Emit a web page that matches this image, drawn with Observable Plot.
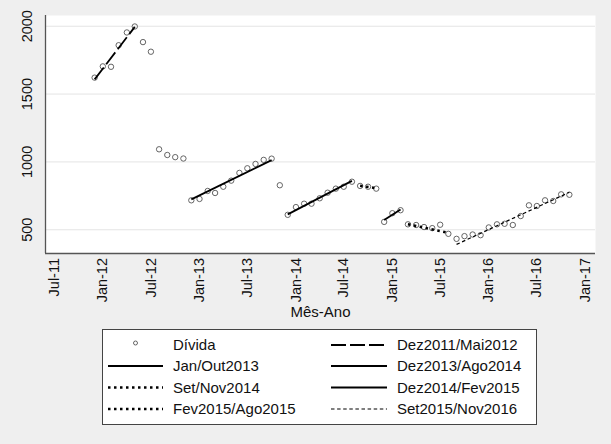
<!DOCTYPE html>
<html><head><meta charset="utf-8">
<script src="https://cdn.jsdelivr.net/npm/d3@7"></script>
<script src="https://cdn.jsdelivr.net/npm/@observablehq/plot@0.6"></script>
<style>
body{margin:0;background:#efefef;font-family:"Liberation Sans",Arial,Helvetica,sans-serif;}
#wrap{position:relative;width:611px;height:444px;overflow:hidden;}
#legend{position:absolute;left:102px;top:329px;}
</style></head><body>
<div id="wrap"><div id="chart"></div><div id="legend"></div></div>
<script>
// ---- data ----
const months = [
  "2011-12",
  "2012-01","2012-02","2012-03","2012-04","2012-05","2012-06","2012-07","2012-08","2012-09","2012-10","2012-11","2012-12",
  "2013-01","2013-02","2013-03","2013-04","2013-05","2013-06","2013-07","2013-08","2013-09","2013-10","2013-11","2013-12",
  "2014-01","2014-02","2014-03","2014-04","2014-05","2014-06","2014-07","2014-08","2014-09","2014-10","2014-11","2014-12",
  "2015-01","2015-02","2015-03","2015-04","2015-05","2015-06","2015-07","2015-08","2015-09","2015-10","2015-11","2015-12",
  "2016-01","2016-02","2016-03","2016-04","2016-05","2016-06","2016-07","2016-08","2016-09","2016-10","2016-11"
];
const divida = [
  1621,
  1704,1701,1860,1954,1998,1883,1812,1093,1051,1035,1025,717,
  727,786,771,817,862,919,953,985,1015,1024,828,610,
  667,692,692,732,773,803,817,854,823,817,803,558,
  622,644,540,535,520,512,537,470,433,453,465,460,
  517,540,544,535,601,680,675,717,712,761,758
];
const fitLabels = ["Dez2011/Mai2012","Jan/Out2013","Dez2013/Ago2014","Set/Nov2014","Dez2014/Fev2015","Fev2015/Ago2015","Set2015/Nov2016"];
const fitStartMonth = ["2011-12","2012-12","2013-12","2014-09","2014-12","2015-03","2015-09"];
const fitEndMonth   = ["2012-05","2013-10","2014-08","2014-11","2015-02","2015-08","2016-11"];
const fitStartValue = [1608, 724, 613, 824, 571, 540, 392];
const fitEndValue   = [1995, 1013, 860, 806, 650, 477, 776];
const yTicks = [500, 1000, 1500, 2000];
const xTickMonths = ["2011-07","2012-01","2012-07","2013-01","2013-07","2014-01","2014-07","2015-01","2015-07","2016-01","2016-07","2017-01"];
const xTickLabels = ["Jul-11","Jan-12","Jul-12","Jan-13","Jul-13","Jan-14","Jul-14","Jan-15","Jul-15","Jan-16","Jul-16","Jan-17"];
const pointLabel = "Dívida";
const xTitle = "Mês-Ano";

// ---- styles ----
const fitStyles = [
  {dash:"15,4", width:1.8},
  {dash:null, width:1.8},
  {dash:null, width:1.8},
  {dash:"2.5,3.5", width:2.5},
  {dash:null, width:1.8},
  {dash:"2.5,3.5", width:2.5},
  {dash:"3.5,2.6", width:1.2}
];
const FONT = '"Liberation Sans",Arial,Helvetica,sans-serif';

const parse = d3.utcParse("%Y-%m");
const points = months.map((m,i)=>({date:parse(m), value:divida[i]}));
const fitRows = fitLabels.flatMap((s,i)=>[
  {series:s, date:parse(fitStartMonth[i]), value:fitStartValue[i]},
  {series:s, date:parse(fitEndMonth[i]), value:fitEndValue[i]}
]);
const xTicks = xTickMonths.map((m,i)=>({date:parse(m), label:xTickLabels[i]}));

const xDomain = [new Date(Date.UTC(2011,4,29)), new Date(Date.UTC(2017,1,8))];
const yDomain = [325, 2079];

const fitMarks = fitLabels.map((s,i)=>Plot.line(fitRows.filter(d=>d.series===s), {
  x:"date", y:"value", stroke:"#000", strokeWidth:fitStyles[i].width,
  strokeDasharray:fitStyles[i].dash || undefined, strokeLinecap:"butt"
}));

const chart = Plot.plot({
  width:611, height:325,
  marginLeft:45, marginRight:16, marginTop:15, marginBottom:72,
  style:{background:"transparent", fontFamily:FONT, fontSize:"14.5px", color:"#111"},
  x:{type:"utc", domain:xDomain, axis:null},
  y:{domain:yDomain, axis:null},
  marks:[
    Plot.frame({fill:"white", stroke:null}),
    Plot.gridY(yTicks, {stroke:"#e4e4e4", strokeOpacity:1, strokeWidth:1}),
    Plot.ruleX([xDomain[0]], {stroke:"#555", strokeWidth:1.3}),
    Plot.ruleY([yDomain[0]], {stroke:"#555", strokeWidth:1.3}),
    Plot.dot(points, {x:"date", y:"value", r:2.7, stroke:"#555", strokeWidth:0.9, fill:"none"}),
    ...fitMarks,
    Plot.text(yTicks, {y:d=>d, text:d=>String(d), frameAnchor:"left", dx:-18, rotate:-90,
      textAnchor:"middle", lineAnchor:"middle", fontSize:14.5, fill:"#111"}),
    Plot.text(xTicks, {x:"date", text:"label", frameAnchor:"bottom", dy:4.5, rotate:-90,
      textAnchor:"end", lineAnchor:"middle", fontSize:14.5, fill:"#111"}),
    Plot.text([xTitle], {text:d=>d, frameAnchor:"bottom", dy:59, lineAnchor:"middle", fontSize:15, fill:"#111"})
  ]
});
document.getElementById("chart").appendChild(chart);

// ---- legend ----
const items = [{label:pointLabel, type:"dot"}].concat(fitLabels.map((s,i)=>({label:s, type:"line", style:fitStyles[i]})));
const LW = 435, LH = 96;
const lsvg = d3.select("#legend").append("svg").attr("width", LW).attr("height", LH);
lsvg.append("rect").attr("x",0.5).attr("y",0.5).attr("width",LW-1).attr("height",LH-1)
  .attr("fill","white").attr("stroke","#444").attr("stroke-width",1);
const rowY = [16, 37, 58.5, 80];
const colSym = [[6,61],[229,285]];
const colText = [71, 295];
items.forEach((it,i)=>{
  const r = Math.floor(i/2), c = i%2, y = rowY[r];
  if (it.type==="dot") {
    lsvg.append("circle").attr("cx",(colSym[c][0]+colSym[c][1])/2).attr("cy",y-2).attr("r",2)
      .attr("fill","none").attr("stroke","#555").attr("stroke-width",0.9);
  } else {
    const ln = lsvg.append("line").attr("x1",colSym[c][0]).attr("x2",colSym[c][1]).attr("y1",y).attr("y2",y)
      .attr("stroke","#000").attr("stroke-width",it.style.width);
    if (it.style.dash) ln.attr("stroke-dasharray", it.style.dash);
  }
  lsvg.append("text").attr("x",colText[c]).attr("y",y).attr("dy","0.35em")
    .attr("font-family",FONT).attr("font-size",15).attr("fill","#111").text(it.label);
});
</script>
</body></html>
